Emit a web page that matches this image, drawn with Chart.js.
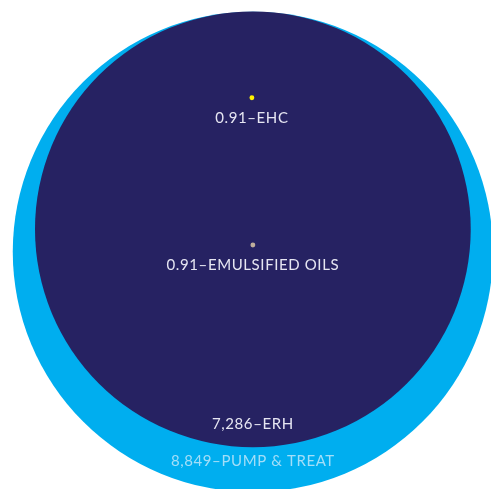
<!DOCTYPE html>
<html>
<head>
<meta charset="utf-8">
<script src="https://cdn.jsdelivr.net/npm/chart.js@4/dist/chart.umd.min.js"></script>
<style>
  html, body { margin: 0; padding: 0; background: #ffffff; }
  #wrap { width: 491px; height: 489px; position: relative; }
</style>
</head>
<body>
<div id="wrap"><canvas id="c"></canvas></div>
<script>
// Data
const categories = ['PUMP & TREAT', 'ERH', 'EHC', 'EMULSIFIED OILS'];
const valueLabels = ['8,849', '7,286', '0.91', '0.91'];
const values = [8849, 7286, 0.91, 0.91];
// bubble centres in chart data units (0-100 on both axes)
const bubbleX = [51.5, 51.5, 51.3, 51.5];
const bubbleY = [48.5, 53.1, 80.0, 49.9];

// styling
const colors = ['#00aeef', '#262262', '#fff200', '#bfae9c'];
const labelColors = ['#a3def8', '#e6e6f2', '#e6e6f2', '#e6e6f2'];
const labelGap = [-31, -23, 18, 18]; // px from each bubble's bottom edge to its label

const maxValue = Math.max(...values);
const maxRadiusData = 48.9; // radius of the largest bubble, in x-axis data units

function radiusPx(chart, v) {
  const xs = chart.scales.x;
  const full = xs.getPixelForValue(maxRadiusData) - xs.getPixelForValue(0);
  return Math.sqrt(v / maxValue) * full;
}

const labelPlugin = {
  id: 'bubbleLabels',
  afterDatasetsDraw(chart) {
    const ctx = chart.ctx;
    const xs = chart.scales.x, ys = chart.scales.y;
    ctx.save();
    ctx.font = '15px Lato, "DejaVu Sans", sans-serif';
    if ('letterSpacing' in ctx) ctx.letterSpacing = '0.6px';
    ctx.textAlign = 'center';
    ctx.textBaseline = 'middle';
    values.forEach((v, i) => {
      const cx = xs.getPixelForValue(bubbleX[i]);
      const cy = ys.getPixelForValue(bubbleY[i]);
      const r = radiusPx(chart, v);
      ctx.fillStyle = labelColors[i];
      ctx.fillText(valueLabels[i] + '\u2013' + categories[i], cx, cy + r + labelGap[i]);
    });
    ctx.restore();
  }
};

const chart = new Chart(document.getElementById('c'), {
  type: 'bubble',
  data: {
    datasets: [{
      label: 'Cost',
      data: values.map((v, i) => ({ x: bubbleX[i], y: bubbleY[i], r: 1 })),
      backgroundColor: colors,
      borderColor: colors,
      borderWidth: 0,
      clip: false
    }]
  },
  options: {
    responsive: true,
    maintainAspectRatio: false,
    animation: false,
    events: [],
    layout: { padding: 0, autoPadding: false },
    scales: {
      x: { type: 'linear', min: 0, max: 100, display: false },
      y: { type: 'linear', min: 0, max: 100, display: false }
    },
    plugins: {
      legend: { display: false },
      tooltip: { enabled: false }
    }
  },
  plugins: [labelPlugin]
});
// size each bubble by area from its value, through the x scale
chart.data.datasets[0].data.forEach((d, i) => { d.r = radiusPx(chart, values[i]); });
chart.update();
</script>
</body>
</html>
